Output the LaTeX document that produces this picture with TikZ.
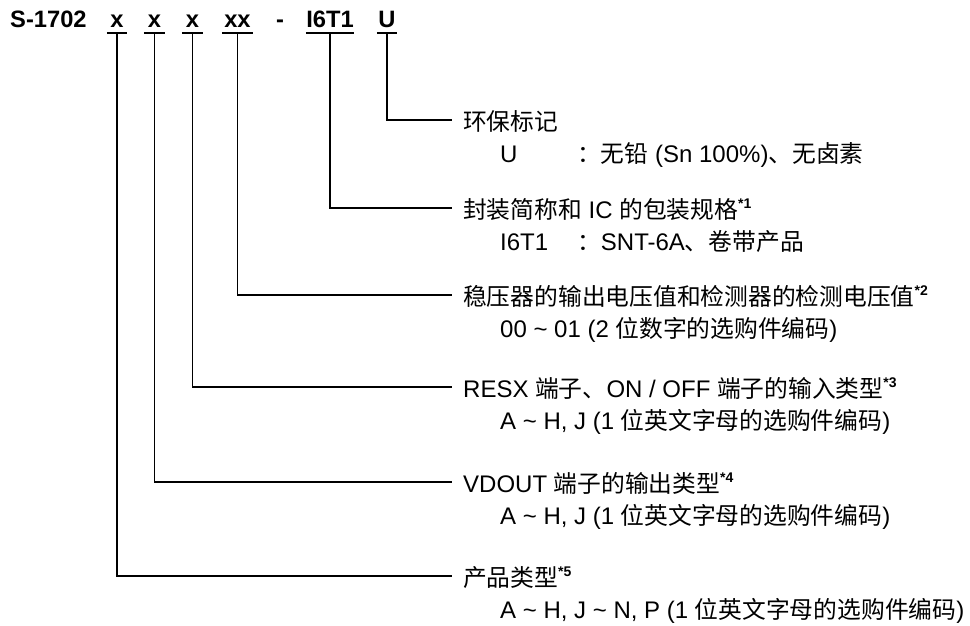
\documentclass[tikz,border=0pt]{standalone}
\usepackage{fontspec}
\setmainfont{Liberation Sans}
\newfontfamily\cjkfont{Noto Sans CJK SC}[Scale=0.99]
\newcommand\cjktxt[1]{{\cjkfont #1}}
\newcommand\fnmark[1]{\raisebox{10pt}{\fontsize{14}{14}\selectfont\bfseries *#1}}
\begin{document}
\begin{tikzpicture}[x=1pt,y=-1pt,
  code/.style={font=\fontsize{23.7}{28}\selectfont\bfseries, inner sep=0pt, anchor=base},
  desc/.style={font=\fontsize{24}{28}\selectfont, inner sep=0pt, anchor=base west},
  conn/.style={line width=1.9pt, line join=miter},
  uline/.style={line width=1.9pt}]
\useasboundingbox (0,0) rectangle (970,625);
% part number
\node[code, anchor=base west] (pfx) at (10,27) {S-1702};
\node[code, minimum width=20pt] (c1) at (117,27) {x};
\node[code, minimum width=21pt] (c2) at (154.5,27) {x};
\node[code, minimum width=21pt] (c3) at (192.5,27) {x};
\node[code, minimum width=31pt] (c4) at (237.5,27) {xx};
\node[code] (dash) at (280,27) {-};
\node[code, minimum width=48pt] (c5) at (330,27) {I6T1};
\node[code, minimum width=20pt] (c6) at (387,27) {U};
\foreach \c in {c1,c2,c3,c4,c5,c6}
  \draw[uline] ([yshift=-6pt]\c.base west) -- ([yshift=-6pt]\c.base east);
% connector ends
\coordinate (e6) at (452,120);
\coordinate (e5) at (452,208);
\coordinate (e4) at (452,295);
\coordinate (e3) at (452,387);
\coordinate (e2) at (452,482);
\coordinate (e1) at (452,576);
\foreach \i in {1,...,6}
  \draw[conn] ([yshift=-6pt]c\i.base) |- (e\i);
% descriptions
\node[desc] (t6) at (463,130.5) {\cjktxt{环保标记}};
\node[desc] (s6) at (500,162.5) {\makebox[77pt][l]{U}\cjktxt{：无铅} (Sn 100\%)\cjktxt{、无卤素}};
\node[desc] (t5) at (463,218.5) {\cjktxt{封装简称和} IC \cjktxt{的包装规格}\fnmark{1}};
\node[desc] (s5) at (500,250.5) {\makebox[77pt][l]{I6T1}\cjktxt{：}SNT-6A\cjktxt{、卷带产品}};
\node[desc] (t4) at (463,305.5) {\cjktxt{稳压器的输出电压值和检测器的检测电压值}\fnmark{2}};
\node[desc] (s4) at (500,337.5) {00 \textasciitilde{} 01 (2 \cjktxt{位数字的选购件编码})};
\node[desc] (t3) at (463,397.5) {RESX \cjktxt{端子、}ON / OFF \cjktxt{端子的输入类型}\fnmark{3}};
\node[desc] (s3) at (500,429.5) {A \textasciitilde{} H, J (1 \cjktxt{位英文字母的选购件编码})};
\node[desc] (t2) at (463,492.5) {VDOUT \cjktxt{端子的输出类型}\fnmark{4}};
\node[desc] (s2) at (500,524.5) {A \textasciitilde{} H, J (1 \cjktxt{位英文字母的选购件编码})};
\node[desc] (t1) at (463,586.5) {\cjktxt{产品类型}\fnmark{5}};
\node[desc] (s1) at (500,618.5) {A \textasciitilde{} H, J \textasciitilde{} N, P (1 \cjktxt{位英文字母的选购件编码})};
\end{tikzpicture}
\end{document}
